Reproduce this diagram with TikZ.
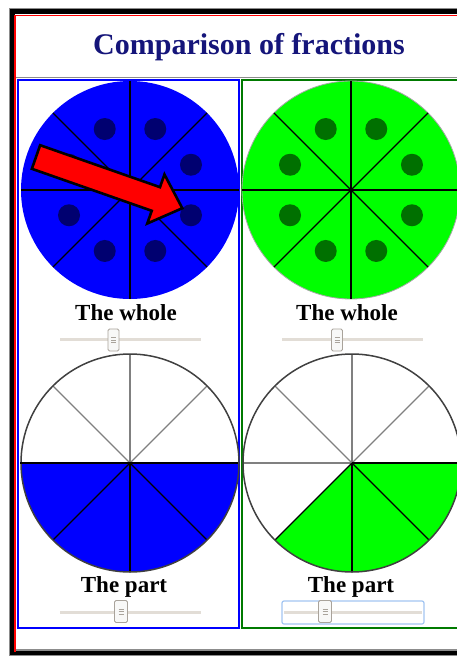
\documentclass[tikz,border=0pt]{standalone}
\usepackage{fontspec}
\setmainfont{Liberation Serif}
\usepackage{tikz}
\usetikzlibrary{positioning}
\definecolor{titleNavy}{HTML}{15157A}
\definecolor{dotNavy}{HTML}{000070}
\definecolor{dotGreen}{HTML}{007000}
\definecolor{panelGreen}{HTML}{007A00}
\definecolor{trackGray}{HTML}{E2DDD6}
\definecolor{thumbGray}{HTML}{A9A39B}
\definecolor{focusBlue}{HTML}{A3C6F2}
\tikzset{
  titleT/.style={font=\fontsize{30}{34}\selectfont\bfseries,
                 text=titleNavy, inner sep=0pt, anchor=base},
  labelT/.style={font=\fontsize{23}{26}\selectfont\bfseries,
                 inner sep=0pt, anchor=base},
  track/.style={draw=trackGray, line width=3pt},
  thumbK/.style={rectangle, rounded corners=1.5pt, draw=thumbGray,
                 fill=white!92!thumbGray, line width=0.8pt,
                 minimum width=11pt, minimum height=22pt, inner sep=0pt,
                 path picture={\foreach \d in {-2.5,0,2.5}
                   \draw[thumbGray, line width=0.5pt]
                   ([xshift=-2.5pt, yshift=\d pt]path picture bounding box.center)
                   -- ++(5pt,0pt);}},
  spoke/.style={draw=black, line width=1.4pt},
  spokeL/.style={draw=black!50, line width=1.4pt},
  rim/.style={draw=black!75, line width=1.5pt},
}

\begin{document}
\begin{tikzpicture}[x=1pt, y=-1pt]
    \useasboundingbox (0,0) rectangle (457,657);
    \clip (0,0) rectangle (457,657);
    \fill[white] (0,0) rectangle (457,657);
    %% frame
    \draw[black!45, line width=0.8pt] (9.5,8) rectangle (490,655);
    \draw[black, line width=5pt] (12,11.5) rectangle (490,652.5);
    \draw[red, line width=1.8pt] (15.2,652) -- (15.2,15.5) -- (490,15.5);
    \draw[black!45, line width=1.2pt] (16,77.5) -- (490,77.5);
    \draw[black!45, line width=1.2pt] (16,650) -- (490,650);
    %% title
    \node[titleT] (title) at (249,54) {Comparison of fractions};
    %% the two panels
    \draw[blue, line width=2pt] (17.8,80) rectangle (239.2,628);
    \draw[panelGreen, line width=2pt] (242,80) rectangle (490,628);
    %% circle centres
    \coordinate (cW1) at (130,190);
    \coordinate (cW2) at (351,190);
    \coordinate (cP1) at (130,463);
    \coordinate (cP2) at (352,463);
    %% the whole
    \fill[blue] (cW1) circle (109);
    \fill[green] (cW2) circle (109);
    \draw[black!35, line width=0.8pt] (cW2) circle (109);
    \foreach \a in {0,45,...,315} {
      \draw[spoke] (cW1) -- ++(\a:109);
      \draw[spoke] (cW2) -- ++(\a:109);
    }
    \foreach \a in {22.5,67.5,...,337.5} {
      \fill[dotNavy] (cW1) ++(\a:66) circle (11);
      \fill[dotGreen] (cW2) ++(\a:66) circle (11);
    }
    %% red pointer
    \begin{scope}[shift={(36,157)}, rotate=-19.3]
      \filldraw[fill=red, draw=black, line width=2.6pt, line join=miter]
        (0,-12.5) -- (127,-12.5) -- (127,-26) -- (155,0)
        -- (127,26) -- (127,12.5) -- (0,12.5) -- cycle;
    \end{scope}
    %% the part
    \fill[blue] (cP1) -- ++(0:109) arc[start angle=0, end angle=180, radius=109] -- cycle;
    \fill[green] (cP2) -- ++(0:109) arc[start angle=0, end angle=135, radius=109] -- cycle;
    \foreach \a in {225,270,315}
      \draw[spokeL] (cP1) -- ++(\a:109);
    \foreach \a in {0,45,90,135,180}
      \draw[spoke] (cP1) -- ++(\a:109);
    \foreach \a in {180,225,270,315}
      \draw[spokeL] (cP2) -- ++(\a:109);
    \foreach \a in {0,45,90,135}
      \draw[spoke] (cP2) -- ++(\a:109);
    \draw[rim] (cP1) circle (109);
    \draw[rim] (cP2) circle (109);
    \draw[spoke] (cP1) ++(-110,0) -- ++(6,0);
    \draw[spoke] (cP2) -- ++(120,0);
    %% labels
    \node[labelT] (whole1) at (126,320.5) {The whole};
    \node[labelT] (whole2) at (347,320) {The whole};
    \node[labelT] (part1) at (124,592) {The part};
    \node[labelT] (part2) at (351,592) {The part};
    %% sliders
    \draw[track] (60,339) -- (201,339);
    \draw[track] (282,339) -- (423,339);
    \draw[track] (60,612) -- (201,612);
    \draw[track] (284,612) -- (422,612);
    \draw[focusBlue, line width=1.2pt, rounded corners=2pt] (282,601) rectangle (424,624);
    \node[thumbK] (knobW1) at (113.5,340) {};
    \node[thumbK] (knobW2) at (337,340) {};
    \node[thumbK, minimum width=13pt] (knobP1) at (121,611.5) {};
    \node[thumbK, minimum width=13pt] (knobP2) at (325,611.5) {};
\end{tikzpicture}
\end{document}
